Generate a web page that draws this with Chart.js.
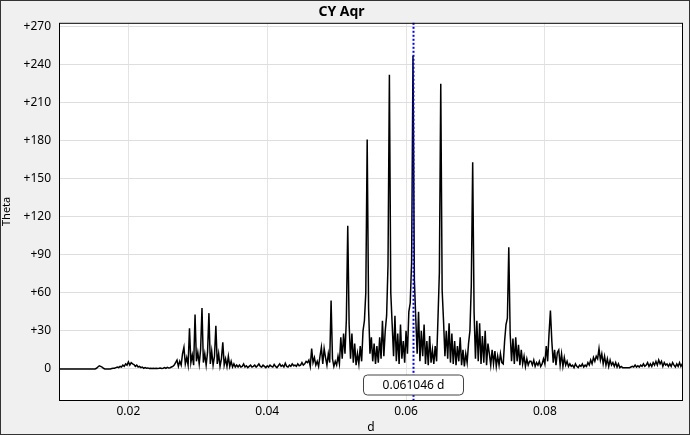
<!DOCTYPE html>
<html>
<head>
<meta charset="utf-8">
<script src="https://cdn.jsdelivr.net/npm/chart.js@4.4.1/dist/chart.umd.min.js"></script>
<style>
  html, body { margin: 0; padding: 0; background: #f0f0f0; }
  #wrap { width: 690px; height: 435px; }
</style>
</head>
<body>
<div id="wrap"><canvas id="c" width="690" height="435"></canvas></div>
<script>
// periodogram of CY Aqr, frequency grid 0.0100 .. 0.1000 d, step 0.0002
var freqStart = 0.0100
var freqStep = 0.0002
var theta = [
  0,0,0,0,0,0,0,0,0,0,
  0,0,0,0,0,0,0,0,0,0,
  0,0,0,0,0,0,0,0.5,1.5,2.5,
  2,1.5,0.5,0,0,0,0,0,0.3,0.5,
  0.5,1,1.5,1,2,1.5,3,2,4,3,
  5.5,3,5,4,3.5,2,3,1.5,2,1,
  1.5,0.5,1,0.5,0.8,0.3,0.6,0.3,0.5,0.4,
  0.6,0.3,0.5,0.8,0.4,0.6,1,0.5,1.2,0.8,
  1,1.5,2,3,5,7,2,6,3,12,
  17,4,9,3,32,5,11,3,43,6,
  13,4,15,48,5,12,3,13,44,4,
  14,3,10,34,4,12,2,8,21,3,
  8,2,10,2,6,1.5,4,1.5,3,1.5,
  3,1.5,2,4,1.5,2.5,1,2,3,1.5,
  2,3,1.5,2.5,4,2,1.5,3,2,1,
  2.5,1.5,3,2,1.5,3.5,2,1,2.5,4,
  2,3,1.5,4.5,2,1.5,3,2,4,2.5,
  3,2,4,2.5,3,5,3,4,6,5,
  7,2,16,5,9,3,6,2,10,17,
  4,16,9,3,12,5,54,8,2,6,
  3,10,4,25,8,28,12,39,113,35,
  8,28,5,20,3,12,4,18,6,30,
  38,60,181,48,12,25,6,20,4,18,
  5,25,8,38,10,30,42,82,232,60,
  35,10,42,6,28,4,35,8,22,5,
  30,12,45,52,84,247,70,40,12,45,
  6,30,10,35,4,22,3,26,5,15,
  4,18,6,40,76,225,62,38,10,30,
  8,36,5,28,4,22,3,18,6,25,
  3,15,2,12,5,20,30,66,163,45,
  8,38,6,36,4,26,5,30,3,20,
  12,3,15,4,14,2,10,3,12,5,
  4,22,35,40,96,28,6,24,4,25,
  6,19,3,15,4,10,2,8,3,6,
  6,3,7,2,5,3,6,2,4,8,
  4,18,6,28,46,22,5,15,3,13,
  15,3,12,2,9,3,6,2,4,2,
  3,1,4,2,1,3,2,4,1.5,3,
  2,5,3,7,4,9,6,10,8,16,
  7,12,4,10,3,8,2,7,3,5,
  2,5,1.5,4,1,2,1,1,1,1,
  1,1,1.5,2,1.5,3,1.5,2.5,1.5,3,
  2,4,2,3,5,2,4,2,5,3,
  6,3,7,4,6,2,5,3,4,2,
  4,2,5,3,1.5,4,2,5,2,4,
  3
]
var xTicks = [0.02, 0.04, 0.06, 0.08]
var yTicks = [0, 30, 60, 90, 120, 150, 180, 210, 240, 270]
var cursorFreq = 0.061046
var cursorText = '0.061046 d'

var pts = theta.map((v, i) => ({ x: +(freqStart + i * freqStep).toFixed(4), y: v }))

var frame = {
  id: 'frame',
  beforeDraw(chart) {
    var ctx = chart.ctx, a = chart.chartArea
    ctx.save()
    ctx.fillStyle = '#f0f0f0'
    ctx.fillRect(0, 0, chart.width, chart.height)
    ctx.fillStyle = '#ffffff'
    ctx.fillRect(a.left, a.top, a.right - a.left, a.bottom - a.top)
    ctx.restore()
  },
  afterDraw(chart) {
    var ctx = chart.ctx, a = chart.chartArea
    var x = Math.round(chart.scales.x.getPixelForValue(cursorFreq)) + 0.5
    ctx.save()
    // cursor line
    ctx.strokeStyle = '#0000ff'
    ctx.lineWidth = 2
    ctx.setLineDash([2, 2])
    ctx.beginPath()
    ctx.moveTo(x, a.top)
    ctx.lineTo(x, a.bottom)
    ctx.stroke()
    ctx.setLineDash([])
    // cursor label
    var bw = 100, bh = 20, by = a.bottom - 25
    ctx.beginPath()
    ctx.roundRect(x - bw / 2, by, bw, bh, 4)
    ctx.fillStyle = '#ffffff'
    ctx.fill()
    ctx.strokeStyle = '#444444'
    ctx.lineWidth = 1
    ctx.stroke()
    ctx.fillStyle = '#000000'
    ctx.font = '12px "Noto Sans"'
    ctx.textAlign = 'center'
    ctx.textBaseline = 'middle'
    ctx.fillText(cursorText, x, by + bh / 2 + 1)
    // plot border
    ctx.strokeStyle = '#000000'
    ctx.lineWidth = 1
    ctx.strokeRect(a.left + 0.5, a.top + 0.5, a.right - a.left - 1, a.bottom - a.top)
    // outer border
    ctx.strokeStyle = '#333333'
    ctx.strokeRect(0.5, 0.5, chart.width - 1, chart.height - 1)
    ctx.restore()
  }
}

new Chart(document.getElementById('c'), {
  type: 'line',
  data: {
    datasets: [{
      data: pts,
      borderColor: '#000000',
      borderWidth: 1.5,
      pointRadius: 0,
      tension: 0,
      fill: false
    }]
  },
  options: {
    responsive: false,
    animation: false,
    devicePixelRatio: 1,
    layout: { padding: { left: 0, right: 7, top: 0, bottom: 0 } },
    plugins: {
      legend: { display: false },
      tooltip: { enabled: false },
      title: {
        display: true,
        text: 'CY Aqr',
        color: '#000000',
        font: { family: '"Noto Sans"', size: 14, weight: 'bold', lineHeight: 1.2 },
        padding: { top: 4, bottom: 2 }
      }
    },
    scales: {
      x: {
        type: 'linear',
        min: 0.01,
        max: 0.0999,
        afterBuildTicks: s => { s.ticks = xTicks.map(v => ({ value: v })) },
        afterFit: s => { s.height = 35 },
        grid: { color: '#e4e4e4', drawTicks: false },
        border: { display: false },
        ticks: {
          color: '#000000',
          padding: 4,
          font: { family: '"Noto Sans"', size: 12 },
          callback: v => String(v)
        },
        title: {
          display: true,
          text: 'd',
          color: '#000000',
          padding: { top: 0, bottom: 0 },
          font: { family: '"Noto Sans"', size: 12 }
        }
      },
      y: {
        min: -24.5,
        max: 273,
        afterBuildTicks: s => { s.ticks = yTicks.map(v => ({ value: v })) },
        afterFit: s => { s.width = 59 },
        grid: { color: '#dedede', drawTicks: false },
        border: { display: false },
        ticks: {
          color: '#000000',
          padding: 8,
          font: { family: '"Noto Sans"', size: 12 },
          callback: v => v > 0 ? '+' + v : String(v)
        },
        title: {
          display: true,
          text: 'Theta',
          color: '#000000',
          padding: { top: 0, bottom: 2 },
          font: { family: '"Noto Sans"', size: 11 }
        }
      }
    }
  },
  plugins: [frame]
})
</script>
</body>
</html>
